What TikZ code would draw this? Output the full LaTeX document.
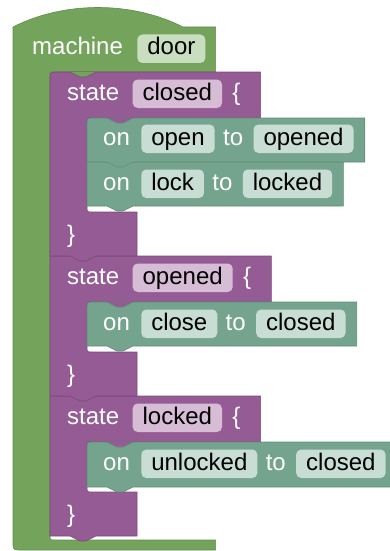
\documentclass[tikz,border=0pt]{standalone}
\usepackage{fontspec}
\setmainfont{Liberation Sans}
\pgfdeclarelayer{bg}
\pgfsetlayers{bg,main}
\definecolor{mg}{RGB}{116,164,92}
\definecolor{mgd}{RGB}{96,140,76}
\definecolor{mgp}{RGB}{200,222,190}
\definecolor{sp}{RGB}{149,91,148}
\definecolor{spd}{RGB}{124,72,123}
\definecolor{spp}{RGB}{214,188,213}
\definecolor{tg}{RGB}{117,164,142}
\definecolor{tgd}{RGB}{96,140,120}
\definecolor{tgp}{RGB}{200,221,211}
\newcommand\bfs{\fontsize{24}{28}\selectfont}
\begin{document}
\begin{tikzpicture}[x=1pt,y=-1pt,
  lbl/.style={font=\bfs, text=white, inner sep=0pt, anchor=base west},
  pill/.style={font=\bfs, text=black, rounded corners=5pt, inner xsep=10pt, inner ysep=3pt, text height=17.5pt, text depth=5pt, anchor=base west},
  blk/.style={line width=0.6pt, line join=round},
  mblk/.style={blk, fill=mg, draw=mgd},
  sblk/.style={blk, fill=sp, draw=spd},
  tblk/.style={blk, fill=tg, draw=tgd},
]
\useasboundingbox (0,0) rectangle (390,551);
% ---------- texts ----------
\node[lbl] (mL) at (32,55) {machine};
\node[pill,fill=mgp] (door) at ([xshift=14pt]mL.base east) {door};
\coordinate (mR) at ([xshift=10pt]door.east);
% state closed
\node[lbl] (s1) at (67,100) {state};
\node[pill,fill=spp] (s1n) at ([xshift=13pt]s1.base east) {closed};
\node[lbl] (s1b) at ([xshift=10pt]s1n.base east) {\{};
\coordinate (s1R) at ([xshift=20pt]s1b.base east);
\node[lbl] (o1) at (103,145) {on};
\node[pill,fill=tgp] (o1a) at ([xshift=11pt]o1.base east) {open};
\node[lbl] (o1t) at ([xshift=8pt]o1a.base east) {to};
\node[pill,fill=tgp] (o1b) at ([xshift=10pt]o1t.base east) {opened};
\coordinate (o1R) at ([xshift=11pt]o1b.east);
\node[lbl] (o2) at (103,190) {on};
\node[pill,fill=tgp] (o2a) at ([xshift=11pt]o2.base east) {lock};
\node[lbl] (o2t) at ([xshift=8pt]o2a.base east) {to};
\node[pill,fill=tgp] (o2b) at ([xshift=10pt]o2t.base east) {locked};
\coordinate (o2R) at ([xshift=11pt]o2b.east);
\node[lbl] (c1) at (67,242) {\}};
% state opened
\node[lbl] (s2) at (67,284) {state};
\node[pill,fill=spp] (s2n) at ([xshift=13pt]s2.base east) {opened};
\node[lbl] (s2b) at ([xshift=10pt]s2n.base east) {\{};
\coordinate (s2R) at ([xshift=20pt]s2b.base east);
\node[lbl] (o3) at (103,330) {on};
\node[pill,fill=tgp] (o3a) at ([xshift=11pt]o3.base east) {close};
\node[lbl] (o3t) at ([xshift=8pt]o3a.base east) {to};
\node[pill,fill=tgp] (o3b) at ([xshift=10pt]o3t.base east) {closed};
\coordinate (o3R) at ([xshift=11pt]o3b.east);
\node[lbl] (c2) at (67,382) {\}};
% state locked
\node[lbl] (s3) at (67,424) {state};
\node[pill,fill=spp] (s3n) at ([xshift=13pt]s3.base east) {locked};
\node[lbl] (s3b) at ([xshift=10pt]s3n.base east) {\{};
\coordinate (s3R) at ([xshift=20pt]s3b.base east);
\node[lbl] (o4) at (103,470) {on};
\node[pill,fill=tgp] (o4a) at ([xshift=11pt]o4.base east) {unlocked};
\node[lbl] (o4t) at ([xshift=8pt]o4a.base east) {to};
\node[pill,fill=tgp] (o4b) at ([xshift=10pt]o4t.base east) {closed};
\coordinate (o4R) at ([xshift=11pt]o4b.east);
\node[lbl] (c3) at (67,522) {\}};
% ---------- blocks ----------
\begin{pgfonlayer}{bg}
% machine
\draw[mblk] (13,27) .. controls (64,1) and (132,1) .. (183,27) -- (mR |- 0,27) -- (mR |- 0,72) -- (50,72) -- (50,535) .. controls (50,540) .. (55,540) -- (mR |- 0,540) -- (mR |- 0,550) -- (21,550) .. controls (13,550) .. (13,542) -- cycle;
\fill[mg] (50,72) rectangle (58,80);
% state blocks (bottom first)
\draw[sblk] (50,396) -- (s3R |- 0,396) -- (s3R |- 0,442) -- (87,442) -- (87,487) .. controls (87,492) .. (92,492) -- (137,492) -- (137,536) -- (96,536) -- (86,541) -- (80,541) -- (70,536) -- (50,536) -- cycle;
\draw[sblk] (50,256) -- (s2R |- 0,256) -- (s2R |- 0,302) -- (87,302) -- (87,347) .. controls (87,352) .. (92,352) -- (137,352) -- (137,396) -- (96,396) -- (86,401) -- (80,401) -- (70,396) -- (50,396) -- cycle;
\draw[sblk] (50,79) .. controls (50,72) .. (57,72) -- (s1R |- 0,72) -- (s1R |- 0,118) -- (87,118) -- (87,207) .. controls (87,212) .. (92,212) -- (137,212) -- (137,256) -- (96,256) -- (86,261) -- (80,261) -- (70,256) -- (50,256) -- cycle;
\filldraw[fill=mg,draw=spd,line width=0.6pt] (70,72) -- (80,77) -- (86,77) -- (96,72);
% children of closed
\fill[sp] (87,118) rectangle (95,126);
\draw[tblk] (87,162) -- (o2R |- 0,162) -- (o2R |- 0,206) -- (133,206) -- (123,211) -- (117,211) -- (107,206) -- (87,206) -- cycle;
\draw[tblk] (87,125) .. controls (87,118) .. (94,118) -- (o1R |- 0,118) -- (o1R |- 0,162) -- (133,162) -- (123,167) -- (117,167) -- (107,162) -- (87,162) -- cycle;
\filldraw[fill=sp,draw=tgd,line width=0.6pt] (107,118) -- (117,123) -- (123,123) -- (133,118);
% child of opened
\fill[sp] (87,302) rectangle (95,310);
\draw[tblk] (87,309) .. controls (87,302) .. (94,302) -- (o3R |- 0,302) -- (o3R |- 0,346) -- (133,346) -- (123,351) -- (117,351) -- (107,346) -- (87,346) -- cycle;
\filldraw[fill=sp,draw=tgd,line width=0.6pt] (107,302) -- (117,307) -- (123,307) -- (133,302);
% child of locked
\fill[sp] (87,442) rectangle (95,450);
\draw[tblk] (87,449) .. controls (87,442) .. (94,442) -- (o4R |- 0,442) -- (o4R |- 0,487) -- (133,487) -- (123,492) -- (117,492) -- (107,487) -- (87,487) -- cycle;
\filldraw[fill=sp,draw=tgd,line width=0.6pt] (107,442) -- (117,447) -- (123,447) -- (133,442);
\end{pgfonlayer}
\end{tikzpicture}
\end{document}
